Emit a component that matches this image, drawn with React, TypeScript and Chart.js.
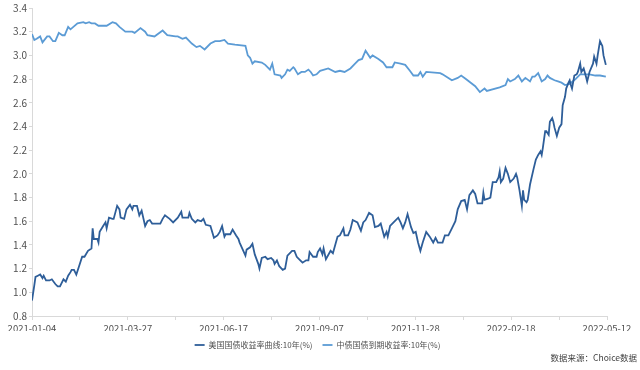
import { useEffect, useRef } from 'react';
import { Chart, registerables } from 'chart.js';

Chart.register(...registerables);

// x values are day offsets from 2021-01-04; axis spans 493 days to 2022-05-12
const TOTAL_DAYS = 493;
const xTickLabels = ['2021-01-04', '2021-03-27', '2021-06-17', '2021-09-07', '2021-11-28', '2022-02-18', '2022-05-12'];
const seriesNames = ['美国国债收益率曲线:10年(%)', '中债国债到期收益率:10年(%)'];
const sourceNote = '数据来源：Choice数据';

const usDays = [0, 2, 3, 5, 7, 9, 10, 12, 15, 17, 20, 22, 24, 26, 27, 29, 31, 33, 34, 36, 38, 40, 43, 45, 48, 51, 52, 53, 56, 57, 58, 61, 63, 64, 66, 69, 70, 73, 75, 76, 79, 81, 84, 86, 87, 90, 92, 94, 97, 99, 101, 103, 110, 112, 114, 118, 121, 125, 128, 129, 134, 135, 137, 140, 142, 145, 147, 149, 153, 156, 159, 161, 163, 165, 166, 170, 172, 175, 177, 178, 183, 184, 187, 189, 191, 194, 195, 197, 200, 202, 205, 207, 208, 210, 212, 215, 217, 219, 223, 225, 227, 230, 232, 235, 237, 238, 241, 244, 245, 247, 249, 250, 252, 256, 258, 262, 264, 267, 268, 271, 273, 275, 279, 282, 284, 286, 289, 292, 294, 297, 299, 302, 304, 305, 307, 310, 314, 316, 318, 320, 322, 325, 327, 329, 331, 333, 335, 338, 341, 344, 346, 348, 352, 354, 357, 360, 363, 365, 368, 371, 373, 375, 378, 380, 382, 386, 387, 388, 391, 393, 395, 398, 400, 401, 402, 404, 406, 408, 410, 413, 415, 416, 418, 420, 421, 422, 424, 425, 427, 430, 432, 434, 436, 437, 438, 440, 441, 443, 444, 446, 447, 448, 450, 452, 454, 455, 457, 458, 460, 461, 462, 463, 465, 467, 468, 470, 471, 473, 475, 476, 478, 481, 482, 484, 485, 487, 489, 490, 492];
const usYield = [0.93, 1.06, 1.13, 1.14, 1.15, 1.12, 1.14, 1.10, 1.10, 1.11, 1.07, 1.05, 1.05, 1.09, 1.11, 1.09, 1.14, 1.17, 1.19, 1.19, 1.15, 1.21, 1.30, 1.30, 1.35, 1.37, 1.54, 1.45, 1.45, 1.42, 1.51, 1.56, 1.59, 1.54, 1.63, 1.62, 1.62, 1.73, 1.70, 1.63, 1.62, 1.70, 1.74, 1.70, 1.73, 1.73, 1.65, 1.69, 1.56, 1.60, 1.61, 1.58, 1.58, 1.62, 1.65, 1.62, 1.59, 1.63, 1.68, 1.63, 1.63, 1.67, 1.62, 1.59, 1.61, 1.60, 1.62, 1.57, 1.56, 1.46, 1.48, 1.51, 1.56, 1.47, 1.49, 1.49, 1.53, 1.48, 1.45, 1.42, 1.31, 1.36, 1.38, 1.41, 1.32, 1.24, 1.20, 1.29, 1.30, 1.28, 1.29, 1.27, 1.24, 1.27, 1.22, 1.19, 1.20, 1.31, 1.35, 1.35, 1.30, 1.27, 1.25, 1.27, 1.27, 1.34, 1.30, 1.30, 1.34, 1.37, 1.32, 1.37, 1.28, 1.35, 1.33, 1.47, 1.48, 1.54, 1.48, 1.48, 1.53, 1.61, 1.59, 1.52, 1.59, 1.61, 1.67, 1.65, 1.55, 1.56, 1.58, 1.47, 1.51, 1.47, 1.56, 1.59, 1.63, 1.59, 1.54, 1.59, 1.66, 1.55, 1.50, 1.51, 1.42, 1.35, 1.42, 1.51, 1.47, 1.42, 1.46, 1.42, 1.42, 1.48, 1.48, 1.54, 1.60, 1.70, 1.77, 1.78, 1.70, 1.82, 1.86, 1.83, 1.75, 1.75, 1.84, 1.78, 1.79, 1.80, 1.93, 1.93, 1.97, 2.02, 1.93, 1.96, 2.05, 2.00, 1.93, 1.96, 2.00, 1.97, 1.86, 1.73, 1.86, 1.78, 1.76, 1.78, 1.91, 2.04, 2.12, 2.16, 2.19, 2.16, 2.22, 2.36, 2.36, 2.33, 2.44, 2.47, 2.44, 2.39, 2.32, 2.39, 2.42, 2.58, 2.65, 2.72, 2.77, 2.79, 2.75, 2.72, 2.83, 2.84, 2.86, 2.93, 2.86, 2.89, 2.82, 2.78, 2.86, 2.93, 2.99, 2.93, 3.00, 3.12, 3.08, 3.00, 2.92];

const cnDays = [0, 2, 4, 7, 9, 13, 15, 18, 20, 23, 26, 28, 31, 33, 39, 44, 46, 49, 51, 54, 57, 61, 64, 69, 72, 75, 80, 86, 88, 93, 97, 99, 105, 112, 116, 123, 125, 129, 132, 137, 141, 144, 148, 153, 157, 161, 165, 168, 174, 183, 185, 187, 189, 191, 197, 200, 204, 206, 208, 213, 214, 217, 219, 221, 224, 225, 228, 231, 234, 237, 239, 241, 244, 247, 254, 260, 264, 268, 273, 277, 280, 283, 286, 290, 292, 297, 301, 304, 309, 311, 316, 320, 324, 327, 331, 333, 335, 338, 350, 352, 357, 360, 365, 368, 372, 380, 384, 388, 390, 401, 406, 408, 410, 414, 417, 420, 423, 427, 429, 431, 434, 437, 440, 442, 444, 448, 451, 454, 457, 461, 466, 470, 474, 478, 483, 487, 492];
const cnYield = [3.18, 3.13, 3.14, 3.16, 3.11, 3.16, 3.16, 3.12, 3.12, 3.19, 3.17, 3.17, 3.24, 3.22, 3.27, 3.28, 3.27, 3.28, 3.27, 3.27, 3.25, 3.25, 3.25, 3.28, 3.27, 3.24, 3.20, 3.20, 3.19, 3.23, 3.20, 3.17, 3.16, 3.21, 3.17, 3.16, 3.16, 3.14, 3.15, 3.10, 3.07, 3.08, 3.05, 3.10, 3.12, 3.12, 3.13, 3.10, 3.09, 3.08, 3.00, 2.98, 2.93, 2.95, 2.94, 2.92, 2.88, 2.93, 2.84, 2.83, 2.81, 2.84, 2.88, 2.87, 2.90, 2.89, 2.84, 2.86, 2.86, 2.88, 2.86, 2.83, 2.84, 2.87, 2.89, 2.86, 2.87, 2.86, 2.89, 2.93, 2.96, 2.97, 3.04, 2.98, 3.00, 2.97, 2.94, 2.90, 2.90, 2.94, 2.93, 2.92, 2.87, 2.83, 2.83, 2.86, 2.82, 2.86, 2.85, 2.84, 2.81, 2.79, 2.81, 2.83, 2.80, 2.74, 2.69, 2.72, 2.70, 2.73, 2.75, 2.80, 2.78, 2.80, 2.83, 2.78, 2.81, 2.78, 2.82, 2.82, 2.85, 2.78, 2.80, 2.83, 2.81, 2.79, 2.78, 2.77, 2.75, 2.76, 2.80, 2.84, 2.84, 2.84, 2.83, 2.83, 2.82];

const US_COLOR = '#2E5E99';
const CN_COLOR = '#5B9BD5';
const AXIS_COLOR = '#d9d9d9';
const TEXT_COLOR = '#505050';
const FONT = '"Noto Sans CJK SC", "Noto Sans", sans-serif';

export default function App() {
  const canvasRef = useRef<HTMLCanvasElement | null>(null);

  useEffect(() => {
    document.body.style.margin = '0';
    const canvas = canvasRef.current;
    if (!canvas) return;
    const chart = new Chart(canvas, {
      type: 'line',
      data: {
        datasets: [
          {
            label: seriesNames[0],
            data: usDays.map((d, i) => ({ x: d, y: usYield[i] })),
            borderColor: US_COLOR,
            backgroundColor: US_COLOR,
            borderWidth: 1.8,
            pointRadius: 0,
            tension: 0,
          },
          {
            label: seriesNames[1],
            data: cnDays.map((d, i) => ({ x: d, y: cnYield[i] })),
            borderColor: CN_COLOR,
            backgroundColor: CN_COLOR,
            borderWidth: 1.8,
            pointRadius: 0,
            tension: 0,
          },
        ],
      },
      options: {
        animation: false,
        responsive: false,
        devicePixelRatio: 1,
        layout: { padding: { top: 6, right: 5, bottom: 11, left: 0 } },
        plugins: {
          tooltip: { enabled: false },
          legend: {
            position: 'bottom',
            labels: {
              usePointStyle: true,
              pointStyle: 'line',
              pointStyleWidth: 10,
              padding: 10,
              color: TEXT_COLOR,
              font: { size: 8, family: FONT },
            },
          },
        },
        scales: {
          x: {
            type: 'linear',
            min: 0,
            max: TOTAL_DAYS,
            afterBuildTicks: (scale: any) => {
              scale.ticks = Array.from({ length: 13 }, (_, i) => ({ value: (i * TOTAL_DAYS) / 12 }));
            },
            afterFit: (scale: any) => {
              scale.height = 15;
            },
            ticks: {
              autoSkip: false,
              maxRotation: 0,
              padding: 3,
              color: TEXT_COLOR,
              font: { size: 9.5, family: FONT },
              callback: (_v: any, i: number) => (i % 2 === 0 ? xTickLabels[i / 2] : ''),
            },
            grid: { drawOnChartArea: false, drawTicks: true, tickLength: 4, color: AXIS_COLOR },
            border: { color: AXIS_COLOR },
          },
          y: {
            min: 0.8,
            max: 3.4,
            afterFit: (scale: any) => {
              scale.width = 32;
            },
            ticks: {
              stepSize: 0.2,
              padding: 2,
              color: TEXT_COLOR,
              font: { size: 10, family: FONT },
              callback: (v: any) => Number(v).toFixed(1),
            },
            grid: { drawOnChartArea: false, drawTicks: true, tickLength: 3, color: AXIS_COLOR },
            border: { color: AXIS_COLOR },
          },
          yRightSpacer: {
            type: 'linear',
            position: 'right',
            min: 0,
            max: 1,
            afterFit: (scale: any) => {
              scale.width = 28;
            },
            ticks: { display: false },
            grid: { display: false },
            border: { display: false },
          },
        },
      },
    });
    return () => chart.destroy();
  }, []);

  return (
    <div style={{ position: 'relative', width: 640, height: 370, background: '#fff' }}>
      <canvas ref={canvasRef} width={640} height={370} style={{ display: 'block', width: 640, height: 370 }} />
      <div
        style={{
          position: 'absolute',
          right: 3,
          top: 351,
          fontSize: 8.5,
          lineHeight: '12px',
          color: '#404040',
          fontFamily: FONT,
          whiteSpace: 'nowrap',
        }}
      >
        {sourceNote}
      </div>
    </div>
  );
}
